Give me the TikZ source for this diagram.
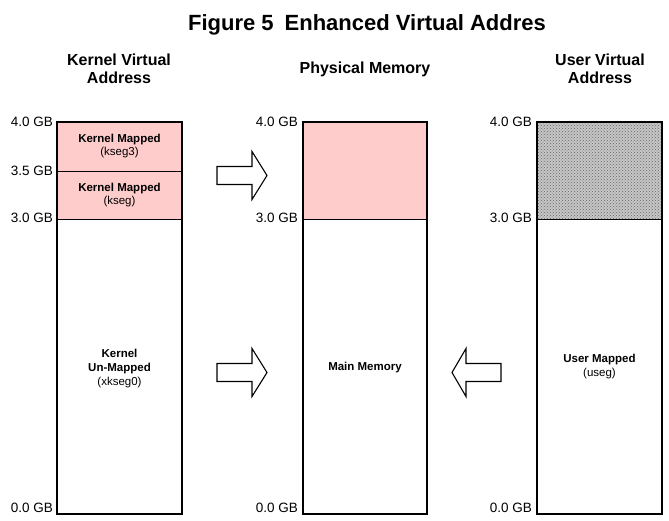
\documentclass[tikz,border=0pt]{standalone}
\usepackage{fontspec}
\setmainfont{Liberation Sans}
\usetikzlibrary{patterns}
\definecolor{segpink}{RGB}{255,204,204}

\begin{document}
\begin{tikzpicture}[x=1pt,y=-1pt,
  region/.style={draw=black,line width=2.6pt},
  divider/.style={draw=black,line width=0.6pt},
  gblabel/.style={anchor=east,inner sep=0pt,font=\fontsize{13.5}{15}\selectfont},
  header/.style={align=center,inner sep=0pt,font=\fontsize{16}{18}\selectfont\bfseries},
  seglabel/.style={align=center,inner sep=0pt,font=\fontsize{11.5}{13.8}\selectfont},
  blockarrow/.style={draw=black,line width=1.1pt,fill=white,line join=miter}]
\useasboundingbox (0,0) rectangle (669,520);

% title and column headings
\node[anchor=base,inner sep=0pt,font=\fontsize{22}{26}\selectfont\bfseries] (title)
  at (367,30) {Figure 5\enspace Enhanced Virtual Addres};
\node[header] (hkernel) at (119,69) {Kernel Virtual\\Address};
\node[header] (hphys)   at (365,69) {Physical Memory};
\node[header] (huser)   at (600,69) {User Virtual\\Address};

% kernel virtual address space
\fill[segpink] (57,122) rectangle (182,219);
\draw[divider] (57,171) -- (182,171);
\draw[divider] (57,219) -- (182,219);
\draw[region] (57,122) rectangle (182,514);
\node[seglabel] (kseg3)  at (119.5,146) {\textbf{Kernel Mapped}\\(kseg3)};
\node[seglabel] (kseg)   at (119.5,195) {\textbf{Kernel Mapped}\\(kseg)};
\node[seglabel] (xkseg0) at (119.5,368.5) {\textbf{Kernel}\\\textbf{Un-Mapped}\\(xkseg0)};
\node[gblabel] (k40) at (53,122) {4.0 GB};
\node[gblabel] (k35) at (53,171) {3.5 GB};
\node[gblabel] (k30) at (53,218) {3.0 GB};
\node[gblabel] (k00) at (53,508) {0.0 GB};

% physical memory
\fill[segpink] (303,122) rectangle (427,219);
\draw[divider] (303,219) -- (427,219);
\draw[region] (303,122) rectangle (427,514);
\node[seglabel] (mainmem) at (365,368) {\textbf{Main Memory}};
\node[gblabel] (p40) at (298,122) {4.0 GB};
\node[gblabel] (p30) at (298,218) {3.0 GB};
\node[gblabel] (p00) at (298,508) {0.0 GB};

% user virtual address space (stippled upper region)
\fill[gray!45] (537,122) rectangle (662,219);
\fill[pattern=crosshatch dots,pattern color=black!60] (537,122) rectangle (662,219);
\draw[divider] (537,219) -- (662,219);
\draw[region] (537,122) rectangle (662,514);
\node[seglabel] (useg) at (599.5,366.5) {\textbf{User Mapped}\\(useg)};
\node[gblabel] (u40) at (532,122) {4.0 GB};
\node[gblabel] (u30) at (532,218) {3.0 GB};
\node[gblabel] (u00) at (532,508) {0.0 GB};

% mapping arrows
\draw[blockarrow] (217,166.5) -- (252,166.5) -- (252,151.5) -- (267,175.5)
  -- (252,199.5) -- (252,184.5) -- (217,184.5) -- cycle;
\draw[blockarrow] (217,363.5) -- (252,363.5) -- (252,348.5) -- (267,372.5)
  -- (252,396.5) -- (252,381.5) -- (217,381.5) -- cycle;
\draw[blockarrow] (501,363.5) -- (466,363.5) -- (466,348.5) -- (452,372.5)
  -- (466,396.5) -- (466,381.5) -- (501,381.5) -- cycle;
\end{tikzpicture}
\end{document}
